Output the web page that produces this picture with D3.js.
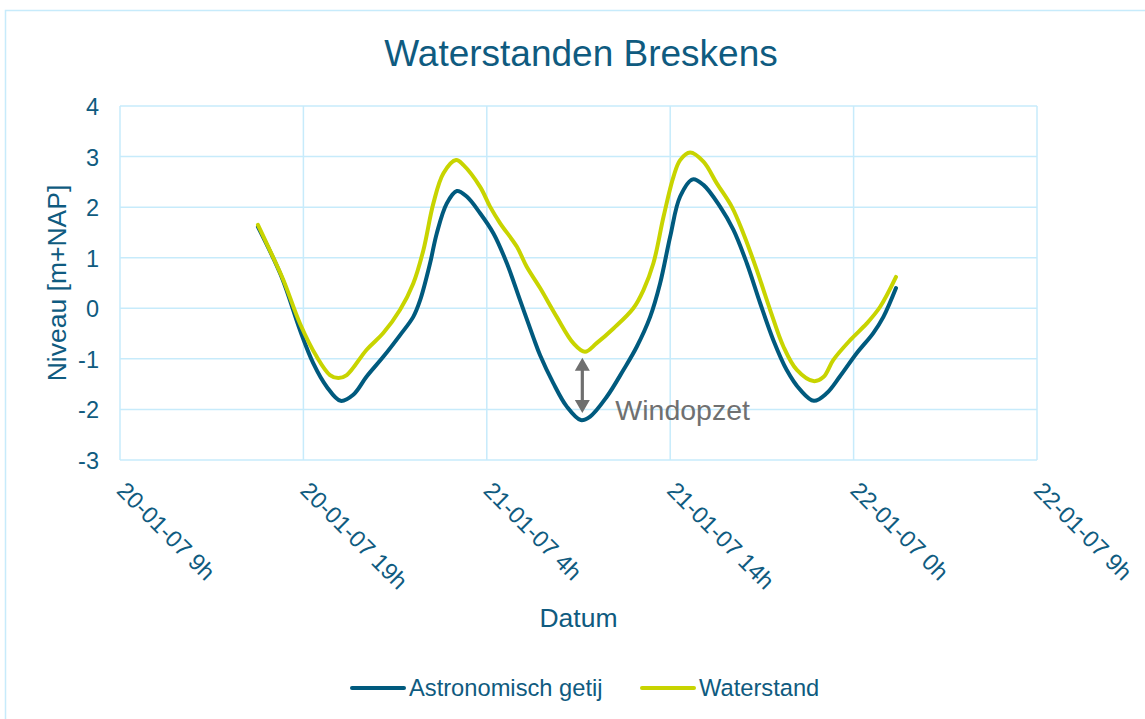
<!DOCTYPE html>
<html>
<head>
<meta charset="utf-8">
<script src="https://cdn.jsdelivr.net/npm/d3@7"></script>
<style>
  html, body { margin: 0; padding: 0; background: #ffffff; }
  svg { display: block; font-family: "Liberation Sans", Arial, sans-serif; }
</style>
</head>
<body>
<svg id="chart" width="1145" height="719"></svg>
<script>
// ---------- DATA ----------
// hours after 20-01-07 09:36 (first major tick)
const astroHours = [7.22, 8.46, 9.42, 10.12, 10.82, 11.55, 12.21, 12.91, 13.78, 14.66, 15.35, 15.71, 16.23, 16.58, 17.10, 17.63, 18.15, 18.85, 19.55, 20.25, 20.94, 21.64, 21.99, 22.68, 23.38, 24.12, 24.61, 25.48, 26.35, 27.05, 27.75, 28.27, 28.80, 29.32, 29.98, 30.54, 31.41, 32.11, 32.81, 33.51, 34.20, 34.90, 35.60, 36.32, 36.99, 37.68, 38.56, 39.43, 39.96, 40.62];
const astroValues = [1.61, 0.62, -0.43, -1.09, -1.55, -1.83, -1.71, -1.35, -0.96, -0.53, -0.17, 0.16, 0.89, 1.48, 2.07, 2.32, 2.21, 1.88, 1.48, 0.89, 0.16, -0.58, -0.93, -1.48, -1.94, -2.21, -2.14, -1.75, -1.22, -0.76, -0.17, 0.49, 1.42, 2.21, 2.55, 2.44, 2.01, 1.55, 0.89, 0.10, -0.63, -1.22, -1.61, -1.83, -1.68, -1.35, -0.89, -0.49, -0.17, 0.40];

const waterHours = [7.22, 7.68, 8.55, 9.42, 10.30, 10.99, 11.43, 11.87, 12.91, 13.78, 14.66, 15.35, 15.88, 16.40, 16.93, 17.59, 17.98, 18.85, 19.37, 19.90, 20.77, 21.29, 21.99, 22.86, 23.73, 24.34, 24.95, 25.83, 26.87, 27.40, 27.92, 28.45, 28.97, 29.32, 29.84, 30.54, 31.24, 32.02, 32.63, 33.33, 34.03, 34.73, 35.43, 36.30, 36.82, 37.34, 38.22, 39.09, 39.79, 40.62];
const waterValues = [1.65, 1.28, 0.56, -0.30, -0.96, -1.32, -1.38, -1.32, -0.82, -0.49, -0.03, 0.49, 1.15, 2.07, 2.67, 2.93, 2.83, 2.40, 2.01, 1.68, 1.22, 0.82, 0.40, -0.17, -0.69, -0.86, -0.69, -0.40, 0.00, 0.36, 0.89, 1.81, 2.60, 2.93, 3.08, 2.90, 2.47, 2.01, 1.48, 0.76, -0.03, -0.76, -1.22, -1.44, -1.36, -1.02, -0.63, -0.30, 0.03, 0.62];

const xTickHours = [0, 9.6, 19.2, 28.8, 38.4, 48];
const xTickLabels = ["20-01-07 9h", "20-01-07 19h", "21-01-07 4h", "21-01-07 14h", "22-01-07 0h", "22-01-07 9h"];
const yTicks = [-3, -2, -1, 0, 1, 2, 3, 4];

const seriesNames = ["Astronomisch getij", "Waterstand"];
const seriesColors = ["#005a7e", "#c8d400"];

const annotationText = "Windopzet";
const annotationHour = 24.2;
const annotationFrom = -0.98;
const annotationTo = -2.07;

// ---------- LAYOUT ----------
const svg = d3.select("#chart");
const W = 1145, H = 719;
const plot = { left: 120, right: 1037, top: 106, bottom: 460 };
const textColor = "#0f5b80";
const gridColor = "#c7ebfb";

const x = d3.scaleLinear().domain([0, 48]).range([plot.left, plot.right]);
const y = d3.scaleLinear().domain([-3, 4]).range([plot.bottom, plot.top]);

// outer border
svg.append("rect")
  .attr("x", 5.5).attr("y", 10.5)
  .attr("width", W + 10).attr("height", H + 10)
  .attr("fill", "none").attr("stroke", gridColor).attr("stroke-width", 1.5);

// title
svg.append("text")
  .attr("x", 581).attr("y", 66)
  .attr("text-anchor", "middle")
  .attr("font-size", 37).attr("fill", textColor)
  .text("Waterstanden Breskens");

// gridlines
const grid = svg.append("g");
grid.selectAll("line.h").data(yTicks).enter().append("line")
  .attr("x1", plot.left).attr("x2", plot.right)
  .attr("y1", d => y(d)).attr("y2", d => y(d))
  .attr("stroke", gridColor).attr("stroke-width", 1.5);
grid.selectAll("line.v").data(xTickHours).enter().append("line")
  .attr("x1", d => x(d)).attr("x2", d => x(d))
  .attr("y1", plot.top).attr("y2", plot.bottom)
  .attr("stroke", gridColor).attr("stroke-width", 1.5);

// y axis (labels only)
const yAxis = d3.axisLeft(y).tickValues(yTicks).tickSize(0).tickPadding(0).tickFormat(d => String(d));
const yg = svg.append("g").attr("transform", `translate(${plot.left - 21},0)`).call(yAxis);
yg.select(".domain").remove();
yg.selectAll("text").attr("font-size", 23.5).attr("fill", textColor)
  .attr("font-family", "Liberation Sans, Arial, sans-serif").attr("dy", "0.36em");

// x axis (rotated labels only)
const xAxis = d3.axisBottom(x).tickValues(xTickHours).tickSize(0)
  .tickFormat((d, i) => xTickLabels[i]);
const xg = svg.append("g").attr("transform", `translate(0,${plot.bottom})`).call(xAxis);
xg.select(".domain").remove();
xg.selectAll("text")
  .attr("font-size", 23.5).attr("fill", textColor)
  .attr("font-family", "Liberation Sans, Arial, sans-serif")
  .attr("text-anchor", "start")
  .attr("x", 0).attr("y", 0).attr("dy", 0)
  .attr("transform", "translate(-5,32) rotate(45)");

// axis titles
svg.append("text")
  .attr("transform", `translate(66,${(plot.top + plot.bottom) / 2}) rotate(-90)`)
  .attr("text-anchor", "middle").attr("font-size", 26.5).attr("fill", textColor)
  .text("Niveau [m+NAP]");
svg.append("text")
  .attr("x", (plot.left + plot.right) / 2).attr("y", 627)
  .attr("text-anchor", "middle").attr("font-size", 26.5).attr("fill", textColor)
  .text("Datum");

// lines
const line = d3.line().x(d => x(d[0])).y(d => y(d[1])).curve(d3.curveCatmullRom.alpha(0.5));
const astro = astroHours.map((h, i) => [h, astroValues[i]]);
const water = waterHours.map((h, i) => [h, waterValues[i]]);

svg.append("path").datum(astro).attr("d", line)
  .attr("fill", "none").attr("stroke", seriesColors[0]).attr("stroke-width", 4)
  .attr("stroke-linejoin", "round").attr("stroke-linecap", "round");
svg.append("path").datum(water).attr("d", line)
  .attr("fill", "none").attr("stroke", seriesColors[1]).attr("stroke-width", 4)
  .attr("stroke-linejoin", "round").attr("stroke-linecap", "round");

// annotation: double arrow
const ax = x(annotationHour);
const y1 = y(annotationFrom), y2 = y(annotationTo);
const headL = 13, headW = 7.5, shaft = 1.6;
const arrowPath = [
  [ax, y1], [ax + headW, y1 + headL], [ax + shaft, y1 + headL],
  [ax + shaft, y2 - headL], [ax + headW, y2 - headL], [ax, y2],
  [ax - headW, y2 - headL], [ax - shaft, y2 - headL], [ax - shaft, y1 + headL],
  [ax - headW, y1 + headL]
];
svg.append("path")
  .attr("d", d3.line()(arrowPath) + "Z")
  .attr("fill", "#6f6f6f");
svg.append("text")
  .attr("x", ax + 33).attr("y", y2 + 7)
  .attr("font-size", 28.5).attr("fill", "#707070")
  .text(annotationText);

// legend
const legendItems = [
  { name: seriesNames[0], color: seriesColors[0], x: 352 },
  { name: seriesNames[1], color: seriesColors[1], x: 642 }
];
const lg = svg.append("g");
legendItems.forEach(it => {
  lg.append("line")
    .attr("x1", it.x).attr("x2", it.x + 52).attr("y1", 688).attr("y2", 688)
    .attr("stroke", it.color).attr("stroke-width", 4).attr("stroke-linecap", "round");
  lg.append("text")
    .attr("x", it.x + 57).attr("y", 696)
    .attr("font-size", 23.7).attr("fill", textColor)
    .text(it.name);
});
</script>
</body>
</html>
